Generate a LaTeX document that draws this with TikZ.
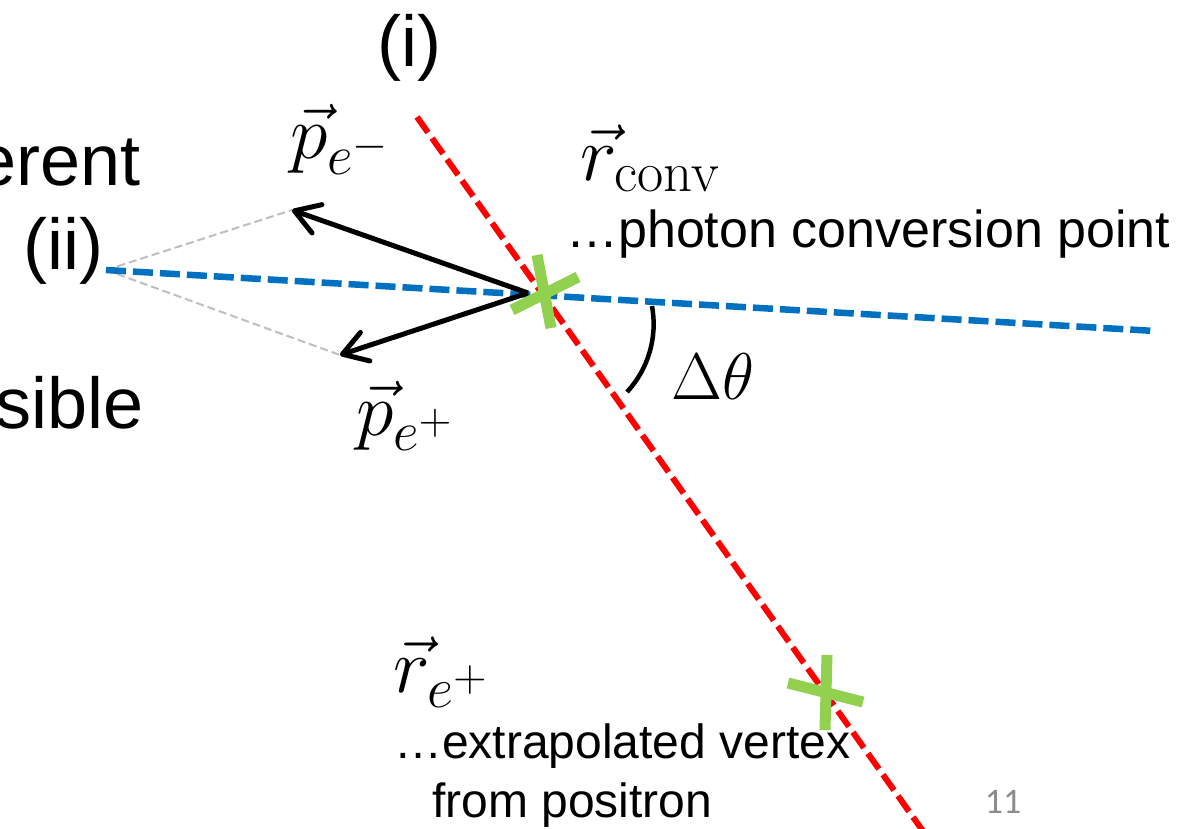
\RequirePackage{fix-cm}
\documentclass[tikz,border=0pt]{standalone}
\usepackage[no-math]{fontspec}
\setmainfont{Liberation Sans}
\newfontfamily\numfont{Carlito}
\usetikzlibrary{arrows.meta}
\DeclareMathSizes{76}{76}{56}{45}
\DeclareMathSizes{78}{78}{57}{46}
\DeclareMathSizes{66}{66}{48}{39}
\definecolor{redline}{HTML}{FF0000}
\definecolor{blueline}{HTML}{0070C0}
\definecolor{greenx}{HTML}{92D050}
\definecolor{grayline}{HTML}{BFBFBF}
\definecolor{pagegray}{HTML}{8C8C8C}
\begin{document}
\begin{tikzpicture}[x=1pt,y=-1pt,
  bigtext/.style={inner sep=0pt, font=\fontsize{72}{86}\selectfont},
  midtext/.style={inner sep=0pt, anchor=base west, font=\fontsize{#1}{#1}\selectfont},
  helper/.style={grayline, line width=2pt, dash pattern=on 8pt off 4pt},
  track/.style={line width=5pt, -{Straight Barb[length=24pt,width=30pt,round]}},
  marker/.style={greenx, line width=11pt},
  redtrack/.style={redline, line width=6pt, dash pattern=on 19pt off 7pt},
  bluetrack/.style={blueline, line width=6.5pt, dash pattern=on 20pt off 7pt}]
\useasboundingbox (0,0) rectangle (1199,828);
\clip (0,0) rectangle (1199,828);
\fill[white] (0,0) rectangle (1199,828);

% named points
\coordinate (ii) at (106,270);
\coordinate (blueend) at (1155,331);
\coordinate (redtop) at (417,117);
\coordinate (redbot) at (925,834);
\coordinate (conv) at (543,292);
\coordinate (vtx) at (825,693);
\coordinate (astart) at (528,293);
\coordinate (pmtip) at (292,210);
\coordinate (pptip) at (340,355);
\coordinate (arcA) at (652,306);

% construction lines
\draw[helper] (ii) -- (pmtip);
\draw[helper] (ii) -- (pptip);

% tracks
\draw[bluetrack] (ii) -- (blueend);
\draw[redtrack] (redtop) -- (redbot);

% momenta
\draw[track] (astart) -- (pmtip);
\draw[track] (astart) -- (pptip);

% angle arc
\draw[line width=4.5pt] (arcA) arc[start angle=-10.4, end angle=42.8, radius=100];

% markers
\draw[marker] ([shift={(-6,-37)}]conv) -- ([shift={(8,36)}]conv);
\draw[marker] ([shift={(-31,18)}]conv) -- ([shift={(35,-15)}]conv);
\draw[marker] ([shift={(2,-38)}]vtx) -- ([shift={(0,37)}]vtx);
\draw[marker] ([shift={(-37,-10)}]vtx) -- ([shift={(38,9)}]vtx);

% texts
\node[bigtext, anchor=base west] (labi) at (377,66) {(i)};
\node[bigtext, anchor=base west] (labii) at (23,269) {(ii)};
\node[bigtext, anchor=base east] (erent) at (141,185) {erent};
\node[bigtext, anchor=base east] (sible) at (144,428) {sible};
\node[midtext=76] (pm) at (290,158) {$\vec{p}_{e^-}$};
\node[midtext=76] (pp) at (356,435) {$\vec{p}_{e^+}$};
\node[midtext=78] (rconv) at (580,180) {$\vec{r}_{\mathrm{conv}}$};
\node[midtext=52] (convtxt) at (566,247) {…photon conversion point};
\node[midtext=66] (dth) at (671,399) {$\Delta\theta$};
\node[midtext=78] (rep) at (393,692) {$\vec{r}_{e^+}$};
\node[midtext=48] (ext) at (394,758) {…extrapolated vertex};
\node[midtext=48] (frompos) at (432,817) {from positron};
\node[pagegray, inner sep=0pt, anchor=base, font=\numfont\fontsize{36}{40}\selectfont] (pnum) at (1003,813) {11};
\end{tikzpicture}
\end{document}
